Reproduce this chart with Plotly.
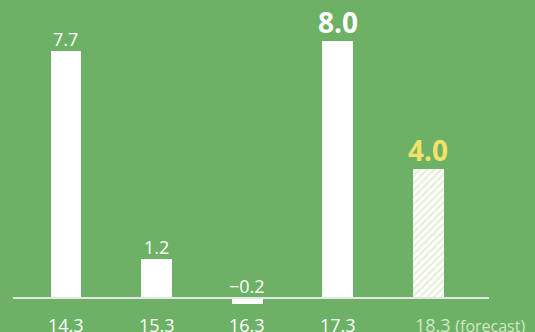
import plotly.graph_objects as go

categories = ["14.3", "15.3", "16.3", "17.3", "18.3"]
values = [7.7, 1.2, -0.2, 8.0, 4.0]
value_labels = ["7.7", "1.2", "\u22120.2", "8.0", "4.0"]
forecast_flags = [False, False, False, False, True]
highlight = [False, False, False, True, True]

BG = "#6cb165"
FONT = "Open Sans"
x = list(range(len(categories)))

fig = go.Figure()
# actual bars
fig.add_trace(go.Bar(
    x=[xi for xi, f in zip(x, forecast_flags) if not f],
    y=[v for v, f in zip(values, forecast_flags) if not f],
    width=0.34, marker=dict(color="white", line=dict(width=0)),
    showlegend=False, hoverinfo="skip"))
# forecast bar
fig.add_trace(go.Bar(
    x=[xi for xi, f in zip(x, forecast_flags) if f],
    y=[v for v, f in zip(values, forecast_flags) if f],
    width=0.34,
    marker=dict(color="white", line=dict(width=0),
                pattern=dict(shape="/", bgcolor="#ffffff", fgcolor="#c4dfa8",
                             size=5, solidity=0.4, fillmode="overlay")),
    showlegend=False, hoverinfo="skip"))

annotations = []
for xi, v, lab, f, h in zip(x, values, value_labels, forecast_flags, highlight):
    if h:
        color = "#f3e26a" if f else "white"
        text = "<b>%s</b>" % lab
        size = 28
    else:
        color = "white"
        text = lab
        size = 18
    annotations.append(dict(x=xi, y=max(v, 0), xref="x", yref="y", text=text,
                            showarrow=False, yanchor="bottom", yshift=-2,
                            font=dict(family=FONT, size=size, color=color)))
for xi, c, f in zip(x, categories, forecast_flags):
    if f:
        annotations.append(dict(x=xi - 0.17, y=0, xref="x", yref="y",
                                text=c + " <span style='font-size:16px'>(forecast)</span>",
                                showarrow=False, xanchor="left", yanchor="top", yshift=-13,
                                font=dict(family=FONT, size=18, color="#d3e9c2")))
    else:
        annotations.append(dict(x=xi, y=0, xref="x", yref="y", text=c,
                                showarrow=False, yanchor="top", yshift=-13,
                                font=dict(family=FONT, size=18, color="white")))

fig.update_layout(
    width=535, height=332,
    paper_bgcolor=BG, plot_bgcolor=BG,
    margin=dict(l=13, r=46, t=25, b=2),
    xaxis=dict(range=[-0.585, 4.67], visible=False, fixedrange=True),
    yaxis=dict(range=[-1.0, 8.5], visible=False, fixedrange=True),
    bargap=0, annotations=annotations,
    shapes=[dict(type="line", xref="x", yref="y", x0=-0.585, x1=4.67, y0=0, y1=0,
                 line=dict(color="#e6e6e6", width=2), layer="above")],
)
fig.write_html("out.html")
